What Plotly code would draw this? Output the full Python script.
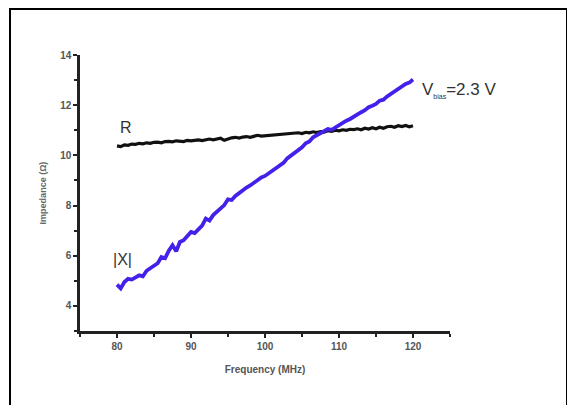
import plotly.graph_objects as go

freq = [80.0 + 0.5 * i for i in range(81)]

x_react = [4.85, 4.70, 4.95, 5.08, 5.05, 5.15, 5.22, 5.18, 5.40, 5.50,
           5.62, 5.70, 5.95, 5.90, 6.20, 6.42, 6.18, 6.55, 6.62, 6.78,
           6.95, 6.90, 7.05, 7.20, 7.48, 7.40, 7.62, 7.75, 7.90, 8.02,
           8.25, 8.22, 8.38, 8.50, 8.58, 8.72, 8.80, 8.92, 9.00, 9.12,
           9.18, 9.28, 9.40, 9.48, 9.62, 9.70, 9.88, 9.98, 10.10, 10.22,
           10.32, 10.48, 10.55, 10.72, 10.80, 10.88, 10.95, 11.05, 11.02, 11.12,
           11.18, 11.30, 11.38, 11.45, 11.55, 11.62, 11.72, 11.80, 11.92, 11.98,
           12.05, 12.18, 12.22, 12.35, 12.45, 12.52, 12.62, 12.72, 12.85, 12.90,
           13.02]

r_res = [10.38, 10.35, 10.42, 10.40, 10.45, 10.44, 10.48, 10.46, 10.50, 10.48,
         10.52, 10.53, 10.50, 10.55, 10.56, 10.54, 10.58, 10.57, 10.55, 10.60,
         10.58, 10.60, 10.62, 10.59, 10.63, 10.65, 10.62, 10.66, 10.68, 10.60,
         10.66, 10.70, 10.72, 10.69, 10.73, 10.75, 10.72, 10.76, 10.80, 10.77,
         10.78, 10.82, 10.80, 10.83, 10.82, 10.86, 10.84, 10.88, 10.86, 10.90,
         10.87, 10.92, 10.90, 10.94, 10.91, 10.95, 10.93, 10.98, 10.96, 11.00,
         10.98, 11.02, 11.00, 11.04, 11.03, 11.06, 11.02, 11.08, 11.05, 11.10,
         11.06, 11.12, 11.08, 11.14, 11.16, 11.12, 11.18, 11.15, 11.19, 11.14,
         11.18]

x_ticks = [80, 90, 100, 110, 120]
y_ticks = [4, 6, 8, 10, 12, 14]

FAM = "Liberation Sans, Arial"
tick_font = dict(family=FAM, size=10, color="#555555", weight="bold")

fig = go.Figure()
fig.add_trace(go.Scatter(x=freq, y=r_res, mode="lines",
                         line=dict(color="#111111", width=3.2), showlegend=False))
fig.add_trace(go.Scatter(x=freq, y=x_react, mode="lines",
                         line=dict(color="#4420ea", width=3.8), showlegend=False))

# page body has an 8px offset: plot area target on screen x 80..450, y 55..331
L, T, W, H = 72, 47, 370, 276

fig.update_layout(
    width=575, height=405,
    margin=dict(l=L, r=575 - L - W, t=T, b=405 - T - H),
    paper_bgcolor="white", plot_bgcolor="white",
    xaxis=dict(range=[75, 125], tickvals=x_ticks, ticks="outside", ticklen=4, tickwidth=2,
               tickcolor="#222", showline=True, linecolor="#222", linewidth=2.5,
               showgrid=False, zeroline=False, tickfont=tick_font,
               minor=dict(ticks="outside", ticklen=3, tickwidth=2, tickcolor="#222", dtick=5, tick0=75),
               title=dict(text="Frequency (MHz)", font=dict(family=FAM, size=10, color="#555555", weight="bold"), standoff=16)),
    yaxis=dict(range=[3, 14], tickvals=y_ticks, ticks="outside", ticklen=4, tickwidth=2,
               tickcolor="#222", showline=True, linecolor="#222", linewidth=2.5,
               showgrid=False, zeroline=False, tickfont=tick_font,
               minor=dict(ticks="outside", ticklen=3, tickwidth=2, tickcolor="#222", dtick=1, tick0=3),
               title=dict(text="Impedance (Ω)", font=dict(family=FAM, size=9, color="#666666", weight="bold"), standoff=12)),
    annotations=[
        dict(x=81.25, y=11.1, text="R", showarrow=False, xanchor="center", yanchor="middle",
             font=dict(family=FAM, size=16, color="#333333")),
        dict(x=80.75, y=5.85, text="|X|", showarrow=False, xanchor="center", yanchor="middle",
             font=dict(family=FAM, size=16, color="#333333")),
        dict(x=120.95, y=12.6, text="V<sub><span style='font-size:7px'>bias</span></sub>=2.3 V",
             showarrow=False, xanchor="left", yanchor="middle",
             font=dict(family=FAM, size=17, color="#333333")),
    ],
    shapes=[dict(type="rect", xref="paper", yref="paper",
                 x0=(2 - L) / W, x1=(559 - L) / W,
                 y0=(T + H - 420) / H, y1=(T + H - 1) / H,
                 line=dict(color="black", width=2), fillcolor="rgba(0,0,0,0)", layer="below")],
)

fig.write_html("out.html")
